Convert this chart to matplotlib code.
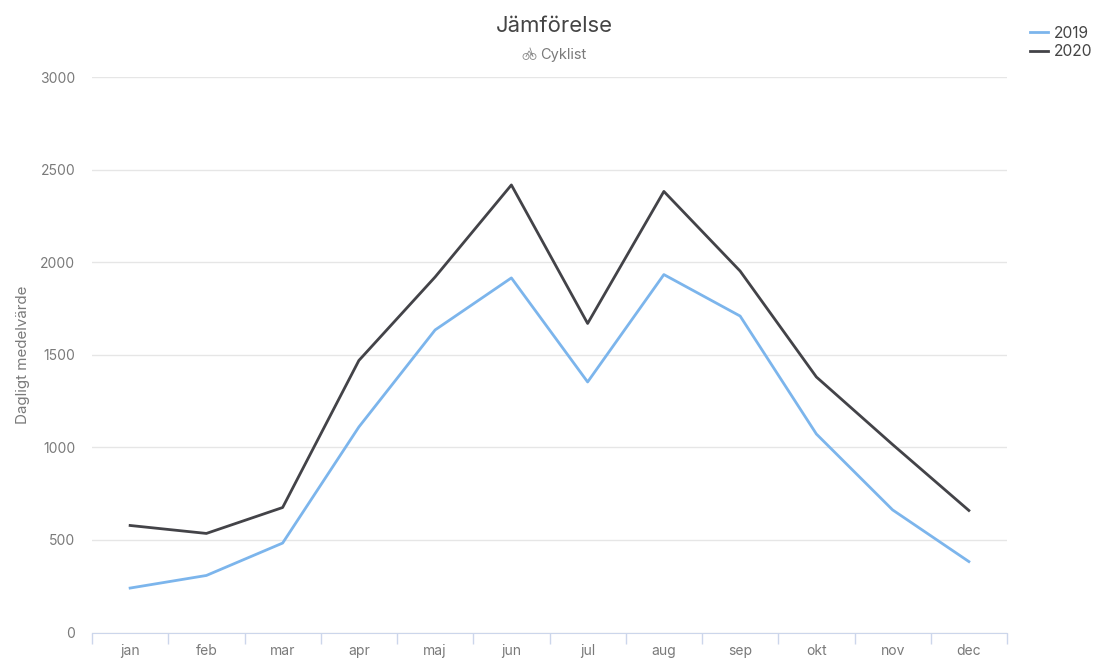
import matplotlib
matplotlib.use("Agg")
import matplotlib.pyplot as plt
from matplotlib.patches import Circle
from matplotlib.lines import Line2D

months = ["jan", "feb", "mar", "apr", "maj", "jun", "jul", "aug", "sep", "okt", "nov", "dec"]
v2019 = [240, 308, 483, 1110, 1634, 1915, 1353, 1933, 1709, 1072, 662, 383]
v2020 = [578, 535, 675, 1469, 1920, 2417, 1669, 2382, 1952, 1380, 1015, 659]
yticks = [0, 500, 1000, 1500, 2000, 2500, 3000]

W, H = 1095, 659
plt.rcParams["font.family"] = ["Inter", "DejaVu Sans"]

fig = plt.figure(figsize=(W / 100, H / 100), dpi=100)
ax = fig.add_axes([92 / W, 1 - 632.5 / H, 915 / W, 555.5 / H])

ax.plot(range(12), v2019, color="#7cb5ec", lw=2, solid_joinstyle="round")
ax.plot(range(12), v2020, color="#434348", lw=2, solid_joinstyle="round")

ax.set_xlim(-0.5, 11.5)
ax.set_ylim(0, 3000)
ax.set_yticks(yticks)
ax.set_xticks([i - 0.5 for i in range(13)])
ax.set_xticklabels([])
ax.grid(axis="y", color="#e6e6e6", lw=1)
ax.set_axisbelow(True)
for s in ["top", "left", "right"]:
    ax.spines[s].set_visible(False)
ax.spines["bottom"].set_color("#ccd6eb")
ax.tick_params(axis="x", length=8, color="#ccd6eb", width=1)
ax.tick_params(axis="y", length=0, labelsize=10, labelcolor="#7a7a7a", pad=12)
for i, m in enumerate(months):
    ax.annotate(m, (i, 0), xycoords=("data", "axes fraction"), xytext=(0, -13),
                textcoords="offset points", ha="center", va="center",
                fontsize=10, color="#7a7a7a")

fig.text(23.5 / W, 1 - 355 / H, "Dagligt medelvärde", rotation=90, ha="center", va="center",
         fontsize=10.9, color="#7a7a7a")
fig.text(554.5 / W, 1 - 26 / H, "Jämförelse", ha="center", va="center", fontsize=15.9, color="#444444")
fig.text(540 / W, 1 - 55 / H, "Cyklist", ha="left", va="center", fontsize=10.5, color="#7a7a7a")

# bicycle icon next to the subtitle
for cx in (526, 533):
    fig.add_artist(Circle((cx, H - 56.5), 3, transform=None, fill=False,
                          ec="#888888", lw=0.6))
fig.add_artist(Line2D([526, 529, 533, 530], [H - 56.5, H - 51, H - 56.5, H - 48],
                      transform=None, color="#888888", lw=0.6))

# legend
for y, c, lab in [(32, "#7cb5ec", "2019"), (51, "#434348", "2020")]:
    fig.add_artist(Line2D([1030, 1048], [H - y, H - y], transform=None, color=c, lw=2))
    fig.text(1054 / W, 1 - (y + 1) / H, lab, ha="left", va="center", fontsize=11.2, color="#444444")

fig.savefig("out.png", dpi=100)
